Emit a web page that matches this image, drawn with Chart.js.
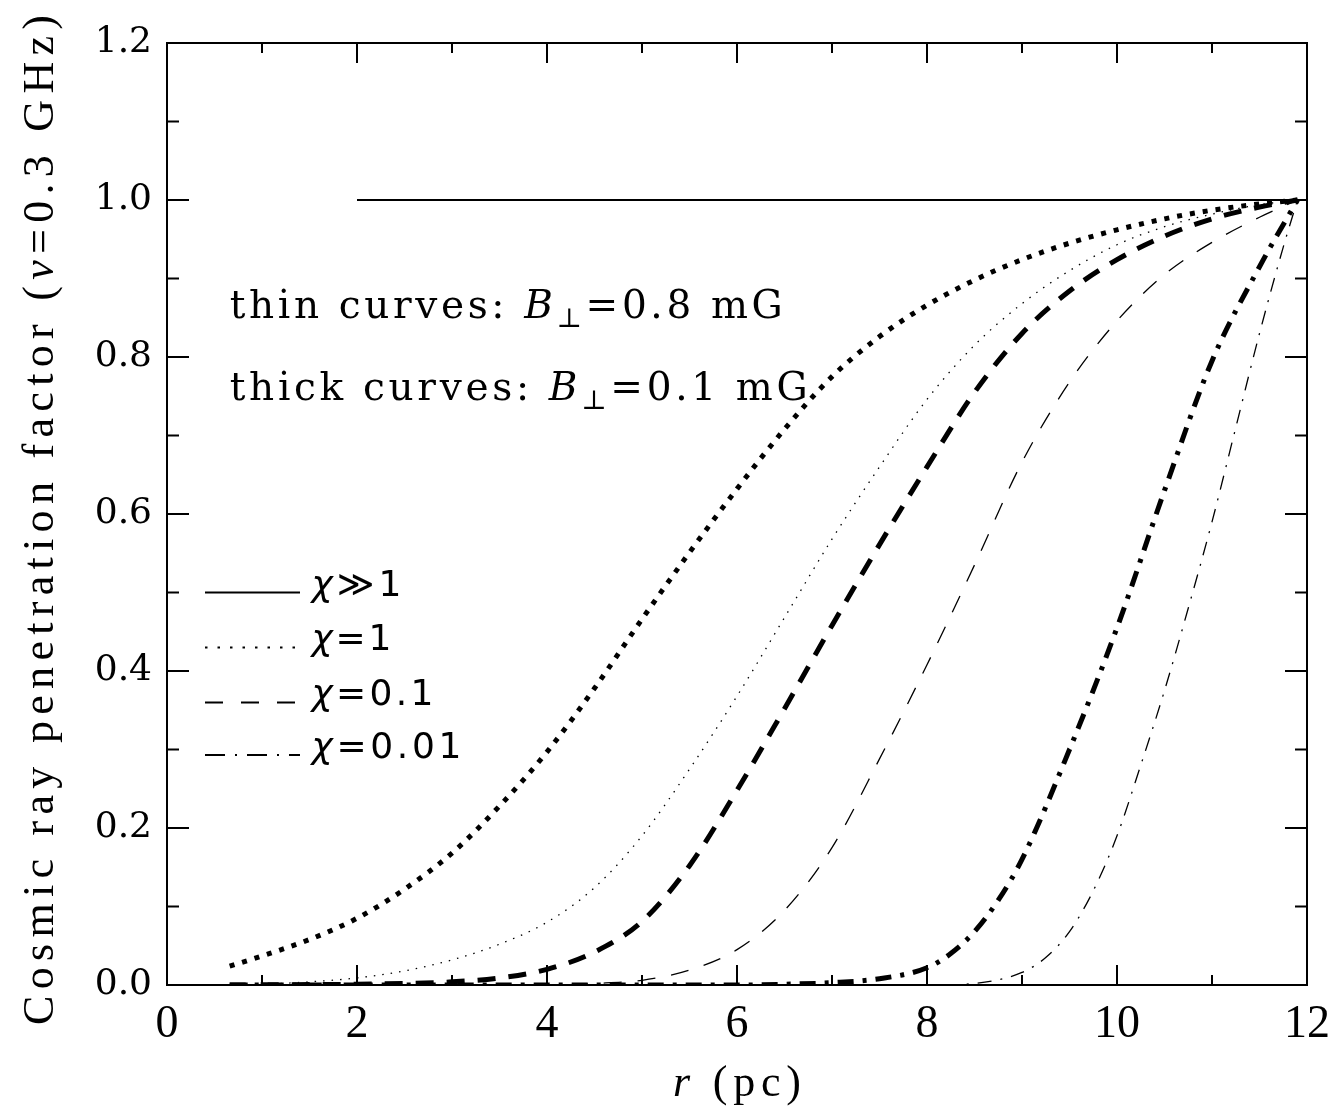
<!DOCTYPE html>
<html>
<head>
<meta charset="utf-8">
<script src="https://cdn.jsdelivr.net/npm/chart.js@4.4.1/dist/chart.umd.min.js"></script>
<style>
  html, body { margin: 0; padding: 0; background: #fff; }
</style>
</head>
<body>
<canvas id="chart" width="1342" height="1114"></canvas>
<script>
  "use strict";

  // chi >> 1 (same for both fields)
  const rSolid = [2.0, 11.9];
  const fSolid = [1.0, 1.0];

  // chi = 1
  const rDotThick = [0.66, 1.0, 1.5, 2.0, 2.5, 3.0, 3.5, 4.0, 4.5, 5.0, 5.5, 6.0, 6.5, 7.0, 7.5, 8.0, 8.5, 9.0, 9.5, 10.0, 10.5, 11.0, 11.5, 11.9];
  const fDotThick = [0.024, 0.037, 0.058, 0.085, 0.122, 0.168, 0.228, 0.297, 0.378, 0.466, 0.551, 0.632, 0.708, 0.775, 0.826, 0.866, 0.898, 0.924, 0.945, 0.962, 0.976, 0.987, 0.995, 1.0];
  const rDotThin = [0.66, 1.0, 1.5, 2.0, 2.5, 3.0, 3.5, 4.0, 4.5, 5.0, 5.5, 6.0, 6.5, 7.0, 7.5, 8.0, 8.5, 9.0, 9.5, 10.0, 10.5, 11.0, 11.5, 11.9];
  const fDotThin = [0.0, 0.001, 0.004, 0.009, 0.018, 0.032, 0.052, 0.08, 0.124, 0.19, 0.275, 0.368, 0.468, 0.568, 0.66, 0.746, 0.815, 0.868, 0.91, 0.943, 0.966, 0.982, 0.994, 1.0];

  // chi = 0.1
  const rDashThick = [0.66, 2.0, 2.5, 3.0, 3.5, 4.0, 4.5, 5.0, 5.5, 6.0, 6.5, 7.0, 7.5, 8.0, 8.5, 9.0, 9.5, 10.0, 10.5, 11.0, 11.5, 11.9];
  const fDashThick = [0.0, 0.001, 0.002, 0.004, 0.009, 0.02, 0.042, 0.081, 0.152, 0.248, 0.352, 0.458, 0.561, 0.66, 0.755, 0.83, 0.884, 0.924, 0.954, 0.976, 0.991, 1.0];
  const rDashThin = [0.66, 4.0, 4.5, 5.0, 5.5, 6.0, 6.5, 7.0, 7.5, 8.0, 8.5, 9.0, 9.5, 10.0, 10.5, 11.0, 11.5, 11.9];
  const fDashThin = [0.0, 0.0, 0.002, 0.006, 0.019, 0.045, 0.095, 0.175, 0.288, 0.408, 0.535, 0.666, 0.768, 0.846, 0.905, 0.946, 0.978, 1.0];

  // chi = 0.01
  const rDashDotThick = [0.66, 6.0, 6.5, 7.0, 7.5, 8.0, 8.25, 8.5, 8.75, 9.0, 9.5, 10.0, 10.5, 11.0, 11.5, 11.9];
  const fDashDotThick = [0.0, 0.0, 0.001, 0.003, 0.008, 0.022, 0.04, 0.068, 0.108, 0.16, 0.3, 0.455, 0.63, 0.795, 0.915, 1.0];
  const rDashDotThin = [0.66, 8.0, 8.5, 9.0, 9.25, 9.5, 9.75, 10.0, 10.25, 10.5, 10.75, 11.0, 11.25, 11.5, 11.75, 11.9];
  const fDashDotThin = [0.0, 0.0, 0.002, 0.016, 0.035, 0.068, 0.12, 0.19, 0.28, 0.375, 0.48, 0.59, 0.71, 0.83, 0.94, 1.0];

  const xMajorTicks = [0, 2, 4, 6, 8, 10, 12];
  const xMinorTicks = [1, 3, 5, 7, 9, 11];
  const yMajorTicks = [0, 0.2, 0.4, 0.6, 0.8, 1.0, 1.2];
  const yMinorTicks = [0.1, 0.3, 0.5, 0.7, 0.9, 1.1];

  const legendLabels = ["\u226B1", "=1", "=0.1", "=0.01"];
  const legendRows = [0.5, 0.43, 0.36, 0.293];
  const legendDashes = [[], [2.5, 10], [18, 18], [20, 10, 2, 10]];
  const legendWidths = [90, 80, 122, 150];

  function pairs(xs, ys) {
    return xs.map((v, i) => ({ x: v, y: ys[i] }));
  }

  function curve(xs, ys, width, dash) {
    return {
      data: pairs(xs, ys),
      borderColor: "#000",
      borderWidth: width,
      borderDash: dash,
      borderCapStyle: "butt",
      pointRadius: 0,
      fill: false,
      cubicInterpolationMode: "monotone",
    };
  }

  // draw text char by char, spread to a given width
  function drawRuns(ctx, runs, x, y, width) {
    const chars = [];
    runs.forEach((r) => {
      for (const ch of r.t) chars.push({ ch: ch, font: r.font, dy: r.dy || 0 });
    });
    let natural = 0;
    chars.forEach((c) => {
      ctx.font = c.font;
      c.w = ctx.measureText(c.ch).width;
      natural += c.w;
    });
    const gap = width ? (width - natural) / Math.max(1, chars.length - 1) : 0;
    let cx = x;
    chars.forEach((c) => {
      ctx.font = c.font;
      ctx.fillText(c.ch, cx, y + c.dy);
      cx += c.w + gap;
    });
  }

  const frameAndText = {
    id: "frameAndText",
    afterDatasetsDraw(chart) {
      const ctx = chart.ctx;
      const a = chart.chartArea;
      const xs = chart.scales.x;
      const ys = chart.scales.y;

      ctx.save();
      ctx.strokeStyle = "#000";
      ctx.fillStyle = "#000";
      ctx.lineWidth = 2;
      ctx.setLineDash([]);
      ctx.strokeRect(a.left, a.top, a.right - a.left, a.bottom - a.top);

      ctx.beginPath();
      function xTick(v, len) {
        const px = xs.getPixelForValue(v);
        ctx.moveTo(px, a.bottom); ctx.lineTo(px, a.bottom - len);
        ctx.moveTo(px, a.top); ctx.lineTo(px, a.top + len);
      }
      function yTick(v, len) {
        const py = ys.getPixelForValue(v);
        ctx.moveTo(a.left, py); ctx.lineTo(a.left + len, py);
        ctx.moveTo(a.right, py); ctx.lineTo(a.right - len, py);
      }
      xMajorTicks.forEach((v) => xTick(v, 20));
      xMinorTicks.forEach((v) => xTick(v, 10));
      yMajorTicks.forEach((v) => yTick(v, 22));
      yMinorTicks.forEach((v) => yTick(v, 12));
      ctx.stroke();

      ctx.textBaseline = "alphabetic";
      ctx.textAlign = "left";

      // annotations
      const serif = "39px 'DejaVu Serif'";
      const serifIt = "italic 39px 'DejaVu Serif'";
      const sub = "27px 'DejaVu Serif'";
      const ax = xs.getPixelForValue(0.66);
      drawRuns(ctx, [
        { t: "thin curves: ", font: serif },
        { t: "B", font: serifIt },
        { t: "\u22A5", font: sub, dy: 9 },
        { t: "=0.8 mG", font: serif },
      ], ax, ys.getPixelForValue(0.85), 553);
      drawRuns(ctx, [
        { t: "thick curves: ", font: serif },
        { t: "B", font: serifIt },
        { t: "\u22A5", font: sub, dy: 9 },
        { t: "=0.1 mG", font: serif },
      ], ax, ys.getPixelForValue(0.745), 578);

      // legend
      const lx0 = xs.getPixelForValue(0.4);
      const lx1 = xs.getPixelForValue(1.4);
      const tx = xs.getPixelForValue(1.52);
      legendRows.forEach((v, i) => {
        const py = ys.getPixelForValue(v);
        ctx.lineWidth = 2;
        ctx.setLineDash(legendDashes[i]);
        ctx.beginPath();
        ctx.moveTo(lx0, py);
        ctx.lineTo(lx1, py);
        ctx.stroke();
        ctx.setLineDash([]);
        drawRuns(ctx, [
          { t: "\u03C7", font: "italic 36px 'DejaVu Sans'" },
          { t: legendLabels[i], font: "36px 'DejaVu Sans'" },
        ], tx, py + 3, legendWidths[i]);
      });

      // x title
      drawRuns(ctx, [
        { t: "r", font: "italic 44px 'Liberation Serif'" },
        { t: " (pc)", font: "44px 'Liberation Serif'" },
      ], (a.left + a.right) / 2 - 64, 1096, 128);

      // y title
      ctx.translate(53, 520);
      ctx.rotate(-Math.PI / 2);
      drawRuns(ctx, [
        { t: "Cosmic ray penetration factor (", font: "44px 'Liberation Serif'" },
        { t: "\u03BD", font: "italic 44px 'Liberation Serif'" },
        { t: "=0.3 GHz)", font: "44px 'Liberation Serif'" },
      ], -505, 0, 1010);
      ctx.restore();
    },
  };

  new Chart(document.getElementById("chart"), {
    type: "line",
    data: {
      datasets: [
        curve(rSolid, fSolid, 2, []),
        curve(rDotThick, fDotThick, 5, [5, 8]),
        curve(rDotThin, fDotThin, 1.3, [1.5, 7]),
        curve(rDashThick, fDashThick, 5, [18, 13]),
        curve(rDashThin, fDashThin, 1.3, [18, 16]),
        curve(rDashDotThick, fDashDotThick, 5, [16, 9, 4, 9]),
        curve(rDashDotThin, fDashDotThin, 1.3, [14, 9, 2, 9]),
      ],
    },
    options: {
      responsive: false,
      animation: false,
      events: [],
      layout: { padding: { left: 0, top: 43, right: 30, bottom: 0 } },
      plugins: {
        legend: { display: false },
        tooltip: { enabled: false },
      },
      scales: {
        x: {
          type: "linear",
          min: 0,
          max: 12,
          afterBuildTicks: (s) => { s.ticks = xMajorTicks.map((v) => ({ value: v })); },
          afterFit: (s) => { s.height = 129; },
          grid: { display: false, drawTicks: false },
          border: { display: false },
          ticks: {
            padding: 12,
            maxRotation: 0,
            autoSkip: false,
            color: "#000",
            font: { family: "'Liberation Serif'", size: 46 },
            callback: (v) => String(v),
          },
        },
        y: {
          type: "linear",
          min: 0,
          max: 1.2,
          afterBuildTicks: (s) => { s.ticks = yMajorTicks.map((v) => ({ value: v })); },
          afterFit: (s) => { s.width = 167; },
          grid: { display: false, drawTicks: false },
          border: { display: false },
          ticks: {
            padding: 15,
            color: "#000",
            font: { family: "'DejaVu Serif'", size: 36 },
            callback: (v) => Number(v).toFixed(1),
          },
        },
      },
    },
    plugins: [frameAndText],
  });
</script>
</body>
</html>
